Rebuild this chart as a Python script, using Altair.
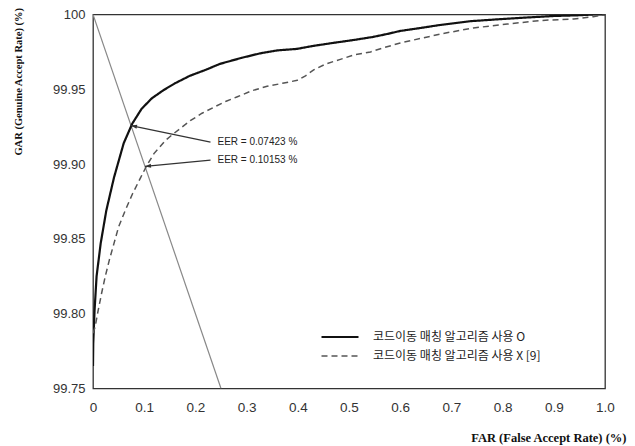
import math
import altair as alt
import pandas as pd

# ---- data ----
far_on = [0.000, 0.0005, 0.003, 0.007, 0.015, 0.026, 0.041, 0.060, 0.0766, 0.095,
          0.115, 0.138, 0.160, 0.189, 0.220, 0.248, 0.290, 0.326, 0.360, 0.398,
          0.430, 0.469, 0.510, 0.547, 0.575, 0.600, 0.640, 0.678, 0.736, 0.800,
          0.848, 0.900, 0.950, 0.977, 1.000]
gar_on = [99.765, 99.780, 99.802, 99.825, 99.847, 99.869, 99.891, 99.914, 99.927, 99.937,
          99.944, 99.9495, 99.954, 99.959, 99.963, 99.967, 99.971, 99.974, 99.976, 99.977,
          99.979, 99.981, 99.983, 99.985, 99.987, 99.989, 99.991, 99.993, 99.9955, 99.997,
          99.998, 99.999, 99.9995, 100.0, 100.0]

far_off = [0.000, 0.004, 0.010, 0.017, 0.024, 0.032, 0.041, 0.050, 0.063, 0.077,
           0.093, 0.105, 0.119, 0.142, 0.158, 0.175, 0.190, 0.213, 0.236, 0.260,
           0.282, 0.310, 0.340, 0.370, 0.399, 0.415, 0.431, 0.455, 0.483, 0.510,
           0.542, 0.570, 0.600, 0.640, 0.679, 0.743, 0.809, 0.874, 0.939, 0.977, 1.000]
gar_off = [99.787, 99.791, 99.802, 99.814, 99.825, 99.836, 99.847, 99.858, 99.869, 99.880,
           99.891, 99.899, 99.907, 99.916, 99.9205, 99.925, 99.929, 99.934, 99.938, 99.942,
           99.945, 99.949, 99.952, 99.954, 99.956, 99.959, 99.963, 99.967, 99.970, 99.973,
           99.975, 99.978, 99.981, 99.984, 99.987, 99.991, 99.9936, 99.996, 99.997, 99.9985, 100.0]

series_names = ["코드이동 매칭 알고리즘 사용 O", "코드이동 매칭 알고리즘 사용 X [9]"]

diag_far = [0.0, 0.25]
diag_gar = [100.0, 99.75]

eer_far = [0.07423, 0.10153]
eer_gar = [99.92577, 99.89847]
eer_labels = ["EER = 0.07423 %", "EER = 0.10153 %"]
label_far = [0.2295, 0.2295]
label_gar = [99.9147, 99.9026]

x_ticks = [0.0, 0.1, 0.2, 0.3, 0.4, 0.5, 0.6, 0.7, 0.8, 0.9, 1.0]
y_ticks = [99.75, 99.80, 99.85, 99.90, 99.95, 100.0]

W, H = 512, 374
X_DOM = [0.0, 1.0]
Y_DOM = [99.75, 100.0]

# ---- tables ----
rows = []
for i, (f, g) in enumerate(zip(far_on, gar_on)):
    rows.append({"far": f, "gar": g, "series": series_names[0], "idx": i})
for i, (f, g) in enumerate(zip(far_off, gar_off)):
    rows.append({"far": f, "gar": g, "series": series_names[1], "idx": i})
curves_df = pd.DataFrame(rows)

diag_df = pd.DataFrame({"far": diag_far, "gar": diag_gar})

arrow_rows = []
head_rows = []
px_x = W / (X_DOM[1] - X_DOM[0])
px_y = H / (Y_DOM[1] - Y_DOM[0])
for k in range(len(eer_far)):
    arrow_rows.append({"far": label_far[k], "gar": label_gar[k], "aid": k, "o": 0})
    arrow_rows.append({"far": eer_far[k], "gar": eer_gar[k], "aid": k, "o": 1})
    dx = (eer_far[k] - label_far[k]) * px_x
    dy = -(eer_gar[k] - label_gar[k]) * px_y
    ang = math.degrees(math.atan2(dx, -dy)) % 360
    head_rows.append({"far": eer_far[k], "gar": eer_gar[k], "ang": ang})
arrow_df = pd.DataFrame(arrow_rows)
head_df = pd.DataFrame(head_rows)
text_df = pd.DataFrame({"far": label_far, "gar": label_gar, "txt": eer_labels})

x_scale = alt.Scale(domain=X_DOM, nice=False)
y_scale = alt.Scale(domain=Y_DOM, nice=False, zero=False)

x_axis = alt.Axis(
    values=x_ticks,
    labelExpr="datum.value == 0 ? '0' : format(datum.value, '.1f')",
    title="FAR (False Accept Rate) (%)",
    titleFont="Liberation Serif", titleFontWeight="bold", titleFontSize=12.5,
    titleColor="#111", titleX=533, titleY=53, titleAlign="right",
    titleBaseline="alphabetic",
    labelFont="Liberation Sans", labelFontSize=13.5, labelColor="#333",
    labelPadding=12, ticks=False, domain=False, grid=False, labelFlush=False,
)
y_axis = alt.Axis(
    values=y_ticks,
    labelExpr="datum.value == 100 ? '100' : format(datum.value, '.2f')",
    title="GAR (Genuine Accept Rate) (%)",
    titleFont="Liberation Serif", titleFontWeight="bold", titleFontSize=10.5,
    titleColor="#111", titleAngle=270, titleX=-75, titleY=-7,
    titleAlign="right", titleBaseline="middle",
    labelFont="Liberation Sans", labelFontSize=13, labelColor="#333",
    labelPadding=8, ticks=False, domain=False, grid=False, labelFlush=False,
)

legend = alt.Legend(
    title=None, orient="none", legendX=227, legendY=316.5,
    symbolType="stroke", symbolSize=1369, labelOffset=13, clipHeight=12,
    labelFont="Noto Sans CJK KR", labelFontSize=12, labelColor="#222",
    rowPadding=7, padding=0, labelLimit=400,
)

curves = alt.Chart(curves_df).mark_line(clip=True).encode(
    x=alt.X("far:Q", scale=x_scale, axis=x_axis),
    y=alt.Y("gar:Q", scale=y_scale, axis=y_axis),
    color=alt.Color("series:N", scale=alt.Scale(domain=series_names, range=["#111111", "#555555"]), legend=legend),
    strokeDash=alt.StrokeDash("series:N", scale=alt.Scale(domain=series_names, range=[[1, 0], [6, 4]]), legend=legend),
    strokeWidth=alt.StrokeWidth("series:N", scale=alt.Scale(domain=series_names, range=[2.2, 1.5]), legend=legend),
    order="idx:Q",
)

diag = alt.Chart(diag_df).mark_line(color="#888888", strokeWidth=1.2, clip=True).encode(
    x=alt.X("far:Q", scale=x_scale), y=alt.Y("gar:Q", scale=y_scale)
)

arrows = alt.Chart(arrow_df).mark_line(color="#333333", strokeWidth=1.2).encode(
    x=alt.X("far:Q", scale=x_scale), y=alt.Y("gar:Q", scale=y_scale),
    detail="aid:N", order="o:Q",
)

heads = alt.Chart(head_df).mark_point(
    shape="M 0 0 L -0.75 2.2 L 0.75 2.2 Z", filled=True, color="#333333", size=30, opacity=1
).encode(
    x=alt.X("far:Q", scale=x_scale), y=alt.Y("gar:Q", scale=y_scale),
    angle=alt.Angle("ang:Q", scale=None),
)

texts = alt.Chart(text_df).mark_text(
    align="left", baseline="middle", dx=7, font="Liberation Sans", fontSize=10, color="#222222"
).encode(
    x=alt.X("far:Q", scale=x_scale), y=alt.Y("gar:Q", scale=y_scale), text="txt:N"
)

chart = alt.layer(diag, curves, arrows, heads, texts).properties(
    width=W, height=H,
    autosize=alt.AutoSizeParams(type="none"),
    padding={"left": 85, "top": 6.5, "right": 22, "bottom": 56},
    background="white",
).configure_view(stroke="#333333", strokeWidth=1.3)

chart.save("out.html", embed_options={"renderer": "svg", "actions": False})
